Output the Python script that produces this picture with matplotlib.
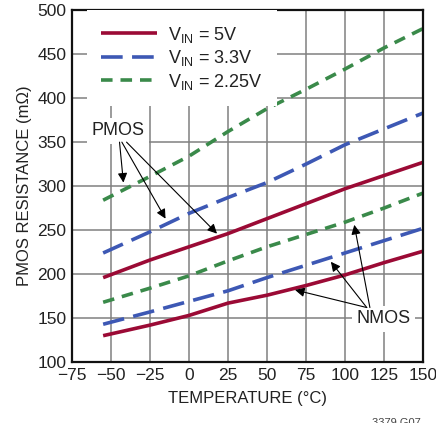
import matplotlib.pyplot as plt

plt.rcParams["font.family"] = ["Liberation Sans", "DejaVu Sans"]

# temperature points (°C)
temps = [-55, -25, 0, 25, 50, 75, 100, 125, 150]

# PMOS resistance (mOhm)
pmos_5v = [196, 216, 231, 246, 263, 280, 297, 312, 327]
pmos_33v = [224, 248, 269, 287, 304, 325, 347, 365, 383]
pmos_225v = [284, 311, 334, 362, 388, 410, 433, 457, 479]

# NMOS resistance (mOhm)
nmos_5v = [130, 142, 153, 167, 176, 187, 199, 213, 226]
nmos_33v = [143, 157, 169, 181, 196, 210, 224, 238, 252]
nmos_225v = [168, 184, 198, 215, 231, 245, 259, 275, 292]

labels = ["V$_{\\mathregular{IN}}$ = 5V", "V$_{\\mathregular{IN}}$ = 3.3V",
          "V$_{\\mathregular{IN}}$ = 2.25V"]
colors = ["#9b0a35", "#3d58b4", "#3a8a4a"]
dashes = [None, (6, 2.6), (3.2, 2.2)]

fig = plt.figure(figsize=(4.36, 4.23), dpi=100)
ax = fig.add_axes([0.165, 0.144, 0.805, 0.832])

handles = []
for p, n, lab, c, d in zip([pmos_5v, pmos_33v, pmos_225v],
                           [nmos_5v, nmos_33v, nmos_225v], labels, colors, dashes):
    kw = dict(color=c, lw=2.6, solid_capstyle="butt", dash_capstyle="butt")
    if d:
        kw["dashes"] = d
    h, = ax.plot(temps, p, label=lab, **kw)
    ax.plot(temps, n, **kw)
    handles.append(h)

ax.set_xlim(-75, 150)
ax.set_ylim(100, 500)
ax.set_xticks(range(-75, 151, 25))
ax.set_xticklabels(["\u221275", "\u221250", "\u221225", "0", "25", "50", "75", "100", "125", "150"])
ax.set_yticks(range(100, 501, 50))
ax.grid(True, color="#808080", lw=1.1)
ax.set_axisbelow(True)
ax.tick_params(length=0, labelsize=12.5, pad=4, colors="#222222")
for s in ax.spines.values():
    s.set_linewidth(1.6)
    s.set_color("#111111")

ax.set_xlabel("TEMPERATURE (°C)", fontsize=12, color="#222222", labelpad=6)
ax.set_ylabel("PMOS RESISTANCE (m\u03a9)", fontsize=12, color="#222222", labelpad=4)

leg = ax.legend(handles=handles, loc="upper left", bbox_to_anchor=(0.043, 1.0),
                frameon=True, fancybox=False, framealpha=1, edgecolor="none",
                fontsize=13, handlelength=3.1, handletextpad=0.6, labelspacing=0.2,
                borderpad=0.8, borderaxespad=0)
for t in leg.get_texts():
    t.set_color("#222222")

box = dict(boxstyle="square,pad=0.25", fc="white", ec="none")
arrow = dict(arrowstyle="-|>", color="black", lw=0.8, mutation_scale=14,
             shrinkA=0, shrinkB=0)

ax.text(-45.5, 363, "PMOS", ha="center", va="center", fontsize=13,
        color="#222222", bbox=box, zorder=5)
for (sx, sy), (tx, ty) in [((-44.5, 350), (-42, 304)),
                           ((-43, 350), (-15, 263)),
                           ((-40, 350), (18, 246))]:
    ax.annotate("", xy=(tx, ty), xytext=(sx, sy), arrowprops=arrow, zorder=6)

ax.text(125, 149, "NMOS", ha="center", va="center", fontsize=13,
        color="#222222", bbox=box, zorder=5)
for (sx, sy), (tx, ty) in [((114, 162), (68, 182)),
                           ((114, 162), (91, 214)),
                           ((116, 162), (106, 256))]:
    ax.annotate("", xy=(tx, ty), xytext=(sx, sy), arrowprops=arrow, zorder=6)

fig.text(0.965, -0.012, "3379 G07", ha="right", va="bottom", fontsize=8, color="#444444")

fig.savefig("out.png", dpi=100)
